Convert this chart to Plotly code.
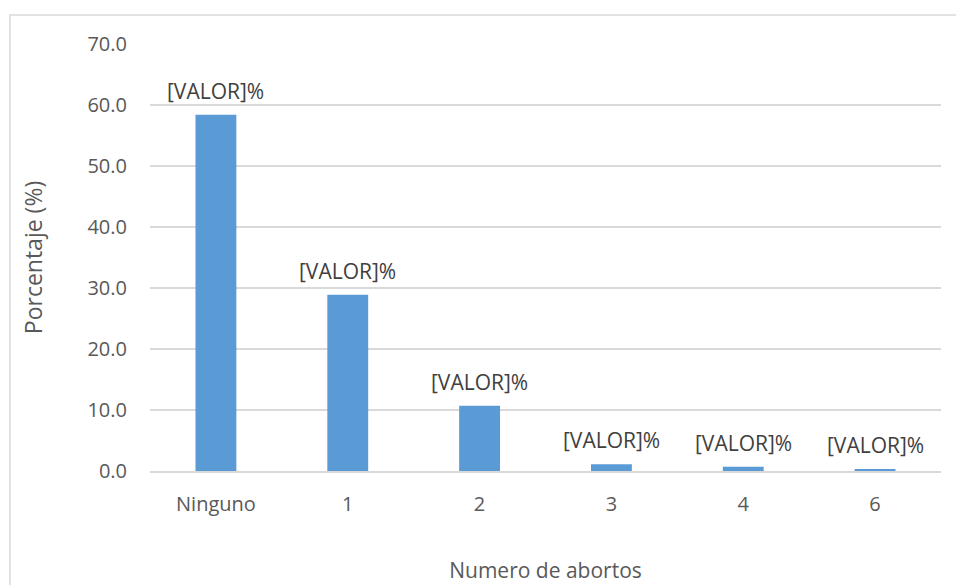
import plotly.graph_objects as go

categorias = ["Ninguno", "1", "2", "3", "4", "6"]
porcentajes = [58.4, 28.9, 10.7, 1.1, 0.7, 0.3]
etiquetas = ["[VALOR]%"] * len(categorias)

gris_texto = "#595959"
fuente = "Open Sans, Liberation Sans, sans-serif"

fig = go.Figure()
fig.add_trace(go.Bar(
    x=categorias,
    y=porcentajes,
    marker=dict(color="#5b9bd5", line=dict(width=0)),
    cliponaxis=False,
))

# etiquetas de datos sobre cada barra (x = indice de la categoria)
for i, (val, txt) in enumerate(zip(porcentajes, etiquetas)):
    fig.add_annotation(x=i, y=val, text=txt, showarrow=False,
                       yanchor="bottom", yshift=8,
                       font=dict(size=21, color="#404040", family=fuente))

# marco gris del grafico (solo visible a la izquierda y arriba)
fig.add_shape(type="rect", xref="paper", yref="paper",
              x0=-0.177, x1=1.05, y0=-0.3, y1=1.068,
              line=dict(color="#d9d9d9", width=1.5), layer="below")

fig.update_layout(
    width=956, height=585,
    margin=dict(l=150, r=15, t=44, b=114),
    paper_bgcolor="white", plot_bgcolor="white",
    bargap=0.69,
    showlegend=False,
    font=dict(family=fuente, color=gris_texto, size=20),
    xaxis=dict(
        type="category",
        title=dict(text="Numero de abortos", font=dict(size=21, color=gris_texto), standoff=48),
        automargin=False,
        showgrid=False, showline=True, linecolor="#d9d9d9", linewidth=1.5,
        ticks="", ticklabelstandoff=14,
        tickfont=dict(size=20, color=gris_texto),
    ),
    yaxis=dict(
        title=dict(text="Porcentaje (%)", font=dict(size=23, color=gris_texto), standoff=38),
        automargin=False,
        range=[0, 70], dtick=10, tickformat=".1f",
        showgrid=True, gridcolor="#d9d9d9", gridwidth=1.5,
        zeroline=False, ticks="", ticklabelstandoff=22,
        tickfont=dict(size=20, color=gris_texto),
    ),
)

fig.write_html("out.html", config={"displayModeBar": False},
               post_script="document.body.style.margin='0';")
